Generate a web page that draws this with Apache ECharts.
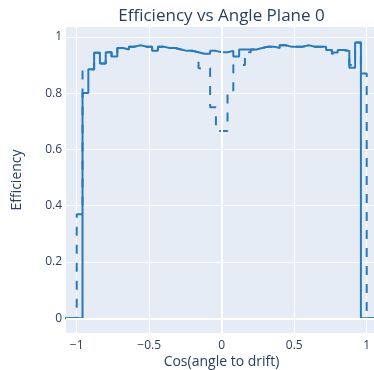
<!DOCTYPE html>
<html>
<head>
<meta charset="utf-8">
<script src="https://cdn.jsdelivr.net/npm/echarts@6/dist/echarts.min.js"></script>
<style>
html,body{margin:0;padding:0;background:#fff;}
#c{width:374px;height:370px;}
</style>
</head>
<body>
<div id="c"></div>
<script>
// Bin left edges (bin width 0.04 from -1 to 1)
const binEdges = [-1.00,-0.96,-0.92,-0.88,-0.84,-0.80,-0.76,-0.72,-0.68,-0.64,
  -0.60,-0.56,-0.52,-0.48,-0.44,-0.40,-0.36,-0.32,-0.28,-0.24,
  -0.20,-0.16,-0.12,-0.08,-0.04,0.00,0.04,0.08,0.12,0.16,
  0.20,0.24,0.28,0.32,0.36,0.40,0.44,0.48,0.52,0.56,
  0.60,0.64,0.68,0.72,0.76,0.80,0.84,0.88,0.92,0.96];
const binEnd = 1.0;

// Solid series efficiency per bin
const solidEff = [0,0.80,0.885,0.943,0.905,0.945,0.93,0.96,0.955,0.965,
  0.97,0.965,0.965,0.95,0.965,0.96,0.96,0.955,0.95,0.95,
  0.945,0.94,0.94,0.95,0.945,0.945,0.95,0.93,0.955,0.955,
  0.955,0.96,0.965,0.965,0.96,0.97,0.965,0.965,0.965,0.97,
  0.965,0.965,0.965,0.953,0.944,0.953,0.95,0.89,0.98,0];

// Dashed series efficiency per bin
const dashedEff = [0.37,0.88,0.885,0.943,0.905,0.945,0.93,0.96,0.955,0.965,
  0.97,0.965,0.965,0.95,0.965,0.96,0.96,0.955,0.95,0.95,
  0.945,0.888,0.888,0.75,0.665,0.665,0.80,0.90,0.90,0.945,
  0.955,0.96,0.965,0.965,0.96,0.97,0.965,0.965,0.965,0.97,
  0.965,0.965,0.965,0.953,0.94,0.953,0.95,0.90,0.98,0.87];

const xTicks = [-1, -0.5, 0, 0.5, 1];
const yTicks = [0, 0.2, 0.4, 0.6, 0.8, 1];

const titleText = 'Efficiency vs Angle Plane 0';
const xTitle = 'Cos(angle to drift)';
const yTitle = 'Efficiency';

function stepData(vals) {
  const d = [[-1.3, 0]];
  binEdges.forEach((e, i) => d.push([e, vals[i]]));
  d.push([binEnd, 0]);
  d.push([1.3, 0]);
  return d;
}

const fontFam = '"Open Sans", "Noto Sans", sans-serif';
const txtColor = '#2a3f5f';
const lineColor = '#2a7ab8';

const chart = echarts.init(document.getElementById('c'), null, {renderer: 'canvas'});
chart.setOption({
  animation: false,
  backgroundColor: '#ffffff',
  grid: {left: 66, top: 27, right: -3, bottom: 37, containLabel: false, outerBoundsMode: 'none',
         show: true, backgroundColor: '#E5ECF6', borderWidth: 0},
  xAxis: {
    type: 'value', min: -1.074, max: 1.071,
    axisLine: {show: false}, axisTick: {show: false, customValues: xTicks},
    splitLine: {show: true, lineStyle: {color: '#ffffff', width: 1}},
    axisLabel: {customValues: xTicks, margin: 7, color: txtColor, fontSize: 12, fontFamily: fontFam,
      formatter: v => String(v).replace('-', '\u2212')}
  },
  yAxis: {
    type: 'value', min: -0.0522, max: 1.0348,
    axisLine: {show: false}, axisTick: {show: false, customValues: yTicks},
    splitLine: {show: true, lineStyle: {color: '#ffffff', width: 1}},
    axisLabel: {customValues: yTicks, margin: 4, color: txtColor, fontSize: 12, fontFamily: fontFam,
      formatter: v => String(v)}
  },
  graphic: [
    {type: 'text', x: 221.5, y: 16, style: {text: titleText, fill: txtColor, font: '17px ' + fontFam,
      textAlign: 'center', textVerticalAlign: 'middle'}},
    {type: 'text', x: 221.5, y: 362, style: {text: xTitle, fill: txtColor, font: '14px ' + fontFam,
      textAlign: 'center', textVerticalAlign: 'middle'}},
    {type: 'text', x: 17, y: 180, rotation: Math.PI / 2, style: {text: yTitle, fill: txtColor, font: '14px ' + fontFam,
      textAlign: 'center', textVerticalAlign: 'middle'}}
  ],
  series: [
    {
      type: 'line', z: 1, data: [], silent: true,
      markLine: {silent: true, symbol: 'none', label: {show: false}, animation: false,
        lineStyle: {color: '#ffffff', width: 2, type: 'solid'},
        data: [{xAxis: 0}, {yAxis: 0}]}
    },
    {
      type: 'line', name: 'solid', step: 'end', data: stepData(solidEff), showSymbol: false, z: 3,
      lineStyle: {color: lineColor, width: 2, type: 'solid'}, itemStyle: {color: lineColor}
    },
    {
      type: 'line', name: 'dashed', step: 'end', data: stepData(dashedEff), showSymbol: false, z: 4,
      lineStyle: {color: lineColor, width: 2, type: [9, 9]}, itemStyle: {color: lineColor}
    }
  ]
});
</script>
</body>
</html>
